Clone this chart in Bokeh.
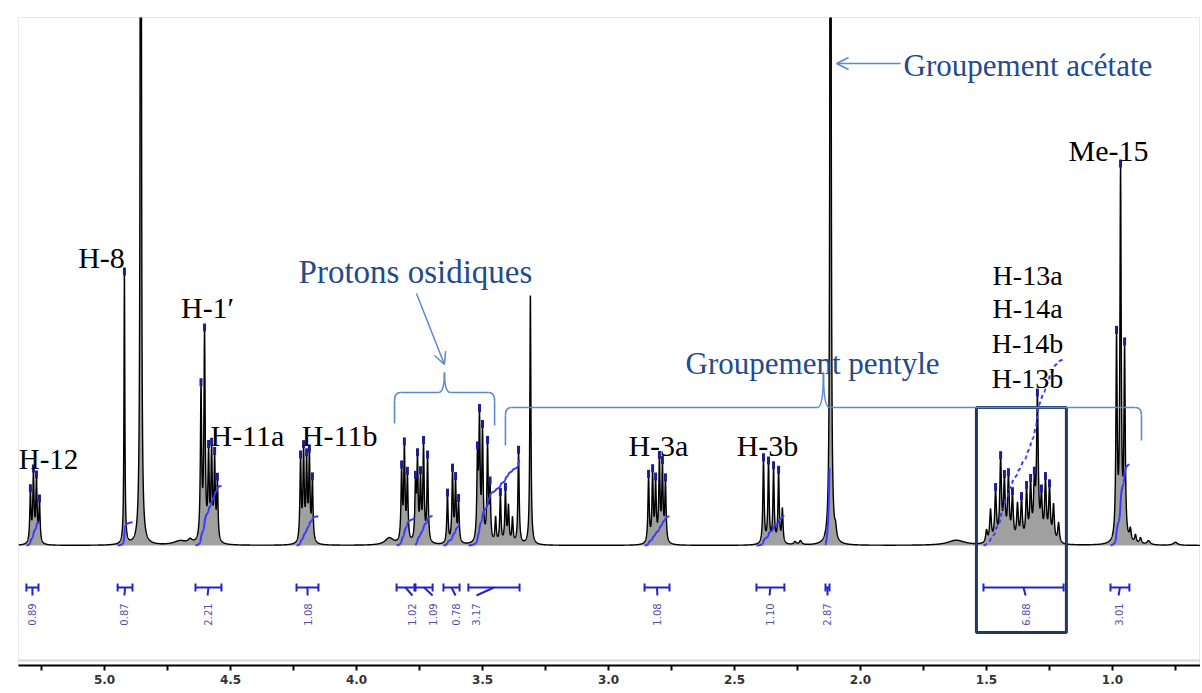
import numpy as np
from bokeh.plotting import figure
from bokeh.models import (Range1d, FixedTicker, PrintfTickFormatter, Arrow, OpenHead,
                          Span, Label)
from bokeh.embed import file_html
from bokeh.resources import INLINE

# ---------------- data ----------------
# chemical shift (ppm) and height above the baseline (arbitrary units) of each line
h12_ppm = [5.294, 5.282, 5.270, 5.258]
h12_int = [50, 68, 62, 40]
h8_ppm = [4.921]
h8_int = [272]
hdo_ppm = [4.856]
hdo_int = [1500]
h1p_ppm = [4.617, 4.603, 4.587, 4.575, 4.563, 4.552]
h1p_int = [150, 205, 84, 88, 80, 58]
h11b_ppm = [4.222, 4.210, 4.198, 4.187, 4.175]
h11b_int = [82, 88, 78, 84, 60]
osid_ppm = [3.821, 3.810, 3.798, 3.766, 3.758, 3.746, 3.734, 3.718,
            3.639, 3.619, 3.607, 3.595, 3.520, 3.512, 3.500, 3.480, 3.470,
            3.448, 3.429, 3.409, 3.397, 3.381, 3.357]
osid_int = [70, 92, 64, 55, 78, 60, 95, 84,
            48, 70, 60, 40, 80, 118, 108, 95, 52,
            25, 48, 52, 36, 25, 92]
solv_ppm = [3.310]
solv_int = [250]
h3a_ppm = [2.841, 2.825, 2.813, 2.798, 2.786, 2.774]
h3a_int = [66, 68, 58, 80, 74, 60]
h3b_ppm = [2.385, 2.365, 2.345, 2.325, 2.310]
h3b_int = [84, 79, 74, 70, 34]
acet_ppm = [2.119]
acet_int = [1500]
h1314_ppm = [1.500, 1.484, 1.464, 1.444, 1.429, 1.413, 1.397, 1.377, 1.361,
             1.341, 1.325, 1.310, 1.298, 1.282, 1.266, 1.250, 1.234, 1.214]
h1314_int = [12, 32, 50, 80, 58, 62, 44, 36, 40, 50, 54, 52, 140, 40, 58, 52, 36, 20]
me15_ppm = [0.984, 0.968, 0.952]
me15_int = [200, 368, 188]
minor_ppm = [4.70, 4.66, 3.87, 2.26, 2.238, 2.099, 1.62, 0.929, 0.909, 0.889, 0.857, 0.750]
minor_int = [4, 4, 7, 3, 4, 10, 5, 12, 8, 6, 4, 3]
minor_hwhm = [0.03, 0.01, 0.02, 0.006, 0.006, 0.004, 0.04, 0.004, 0.004, 0.005, 0.008, 0.01]

# integrations
int_labels = ["0.89", "0.87", "2.21", "1.08", "1.02", "1.09", "0.78", "3.17",
              "1.08", "1.10", "2.87", "6.88", "3.01"]
int_values = [0.89, 0.87, 2.21, 1.08, 1.02, 1.09, 0.78, 3.17, 1.08, 1.10, 2.87, 6.88, 3.01]
int_start = [5.310, 4.948, 4.639, 4.238, 3.841, 3.766, 3.655, 3.556, 2.857, 2.413, 2.139, 1.512, 1.008]
int_end = [5.262, 4.889, 4.536, 4.151, 3.770, 3.698, 3.591, 3.353, 2.758, 2.302, 2.123, 1.194, 0.933]

# axis ticks
major_ticks = [5.0, 4.5, 4.0, 3.5, 3.0, 2.5, 2.0, 1.5, 1.0]
minor_ticks = [5.25, 4.75, 4.25, 3.75, 3.25, 2.75, 2.25, 1.75, 1.25, 0.75]

# ---------------- line shapes ----------------
groups = [
    (h12_ppm, h12_int, 0.003, True),
    (h8_ppm, h8_int, 0.002, True),
    (hdo_ppm, hdo_int, 0.002, False),
    (h1p_ppm, h1p_int, 0.003, True),
    (h11b_ppm, h11b_int, 0.003, True),
    (osid_ppm, osid_int, 0.003, True),
    (solv_ppm, solv_int, 0.0025, False),
    (h3a_ppm, h3a_int, 0.003, True),
    (h3b_ppm, h3b_int, 0.003, True),
    (acet_ppm, acet_int, 0.002, False),
    (h1314_ppm, h1314_int, 0.004, True),
    (me15_ppm, me15_int, 0.003, True),
]

X0, X1 = 5.3413, 0.6508
ppm = np.linspace(X1, X0, 12000)
spec = np.zeros_like(ppm)
for pos, hts, w, _ in groups:
    for c, h in zip(pos, hts):
        spec += h * w * w / ((ppm - c) ** 2 + w * w)
for c, h, w in zip(minor_ppm, minor_int, minor_hwhm):
    spec += h * w * w / ((ppm - c) ** 2 + w * w)

# ---------------- figure ----------------
p = figure(width=1200, height=690, output_backend="svg", toolbar_location=None,
           x_range=Range1d(X0, X1), y_range=Range1d(-120, 528),
           min_border_left=18, min_border_right=0, min_border_top=17, min_border_bottom=25)
p.xgrid.visible = False
p.ygrid.visible = False
p.yaxis.visible = False
p.outline_line_color = "#e8e8e8"
p.background_fill_color = "white"
p.border_fill_color = "white"

ax = p.xaxis[0]
ax.ticker = FixedTicker(ticks=major_ticks, minor_ticks=minor_ticks)
ax.formatter = PrintfTickFormatter(format="%.1f")
ax.axis_line_color = "black"
ax.axis_line_width = 2
ax.major_tick_line_width = 2
ax.minor_tick_line_width = 2
ax.major_tick_out = 5
ax.major_tick_in = 0
ax.minor_tick_out = 5
ax.minor_tick_in = 0
ax.major_label_standoff = 4
ax.major_label_text_font = "DejaVu Sans"
ax.major_label_text_font_style = "bold"
ax.major_label_text_font_size = "12px"
ax.major_label_text_color = "#333333"

p.add_layout(Span(location=-115, dimension="width", line_color="#d6d6d6", line_width=2))

# spectrum
p.varea(x=ppm, y1=np.zeros_like(ppm), y2=spec, fill_color="#a0a0a0")
p.line(ppm, spec, line_color="black", line_width=1.4)

# peak-picking marks
pk_x, pk_y = [], []
for pos, hts, w, picked in groups:
    if not picked:
        continue
    for c, h in zip(pos, hts):
        if h >= 40:
            pk_x.append(c)
            pk_y.append(float(np.interp(c, ppm, spec)) + 2)
p.rect(x=pk_x, y=pk_y, width=3, height=8, width_units="screen", height_units="screen",
       fill_color="#1d1d90", line_color=None)

# integral curves
INT_SCALE = 27
for k, (a, b, v) in enumerate(zip(int_start, int_end, int_values)):
    m = (ppm <= a) & (ppm >= b)
    xs = ppm[m][::-1]
    ys = spec[m][::-1]
    cum = np.cumsum(ys)
    cy = INT_SCALE * v * cum / cum[-1]
    dash = "4 3" if v > 5 else "solid"
    p.line(xs, cy, line_color="#3a3aff", line_width=2, line_dash=dash)

# integration brackets and values
int_label_x = [5.286, 4.921, 4.591, 4.194, 3.778, 3.698, 3.607, 3.524,
               2.806, 2.361, 2.131, 1.345, 0.976]
BY = -42
bc = "#2323c8"
n = len(int_start)
p.segment(x0=int_start, y0=[BY] * n, x1=int_end, y1=[BY] * n, line_color=bc, line_width=2)
p.segment(x0=int_start, y0=[BY - 4] * n, x1=int_start, y1=[BY + 4] * n, line_color=bc, line_width=2)
p.segment(x0=int_end, y0=[BY - 4] * n, x1=int_end, y1=[BY + 4] * n, line_color=bc, line_width=2)
mids = [(a + b) / 2 for a, b in zip(int_start, int_end)]
p.segment(x0=mids, y0=[BY] * n, x1=int_label_x, y1=[BY - 8] * n, line_color=bc, line_width=2)
for lx, t in zip(int_label_x, int_labels):
    p.add_layout(Label(x=lx, y=-69, text=t, angle=np.pi / 2, text_align="center",
                       text_baseline="middle", text_font="DejaVu Sans",
                       text_font_size="10px", text_color="#5a4ea8"))

# box around the H-13/H-14 region
p.quad(left=[1.540], right=[1.183], top=[138], bottom=[-87], fill_color=None,
       line_color="#1f3864", line_width=3)

# ---------------- annotations ----------------
serif = "Liberation Serif"
black_labels = [("H-12", 5.222, 87, "29px"), ("H-8", 5.012, 288, "30px"),
                ("H-1\u2032", 4.591, 238, "30px"), ("H-11a", 4.433, 110, "30px"),
                ("H-11b", 4.067, 110, "30px"), ("H-3a", 2.802, 100, "30px"),
                ("H-3b", 2.369, 100, "30px"), ("Me-15", 1.016, 395, "30px"),
                ("H-13a", 1.337, 270, "28px"), ("H-14a", 1.337, 237, "28px"),
                ("H-14b", 1.337, 202, "28px"), ("H-13b", 1.337, 167, "28px")]
for t, x, y, fs in black_labels:
    p.add_layout(Label(x=x, y=y, text=t, text_align="center", text_baseline="alphabetic",
                       text_font=serif, text_font_size=fs, text_color="black"))

tc = "#234a8c"
lc = "#5b8ad0"
for t, x, y, fs in [("Groupement acétate", 1.829, 480, "31px"),
                    ("Protons osidiques", 4.230, 274, "33px"),
                    ("Groupement  pentyle", 2.694, 182, "31px")]:
    p.add_layout(Label(x=x, y=y, text=t, text_align="left", text_baseline="alphabetic",
                       text_font=serif, text_font_size=fs, text_color=tc))

p.add_layout(Arrow(end=OpenHead(size=12, line_color=lc, line_width=1.5),
                   x_start=1.841, y_start=482, x_end=2.095, y_end=482,
                   line_color=lc, line_width=1.5))
p.add_layout(Arrow(end=OpenHead(size=12, line_color=lc, line_width=1.5),
                   x_start=3.762, y_start=252, x_end=3.651, y_end=181,
                   line_color=lc, line_width=1.5))


def brace(xl, xr, xt, yl, yel, yer, yt, dx=0.024, r=8):
    kw = dict(line_color=lc, line_width=1.6)
    p.segment(x0=[xl, xr], y0=[yel, yer], x1=[xl, xr], y1=[yl - r, yl - r], **kw)
    p.quadratic(x0=[xl, xr], y0=[yl - r, yl - r], x1=[xl - dx, xr + dx], y1=[yl, yl],
                cx=[xl, xr], cy=[yl, yl], **kw)
    p.segment(x0=[xl - dx, xt - dx], y0=[yl, yl], x1=[xt + dx, xr + dx], y1=[yl, yl], **kw)
    p.quadratic(x0=[xt + dx, xt - dx], y0=[yl, yl], x1=[xt, xt], y1=[yt, yt],
                cx=[xt, xt], cy=[yl, yl], **kw)


brace(3.849, 3.452, 3.651, 153, 122, 120, 173)
brace(3.409, 0.885, 2.147, 138, 100, 105, 173)

open("out.html", "w").write(file_html(p, INLINE))
